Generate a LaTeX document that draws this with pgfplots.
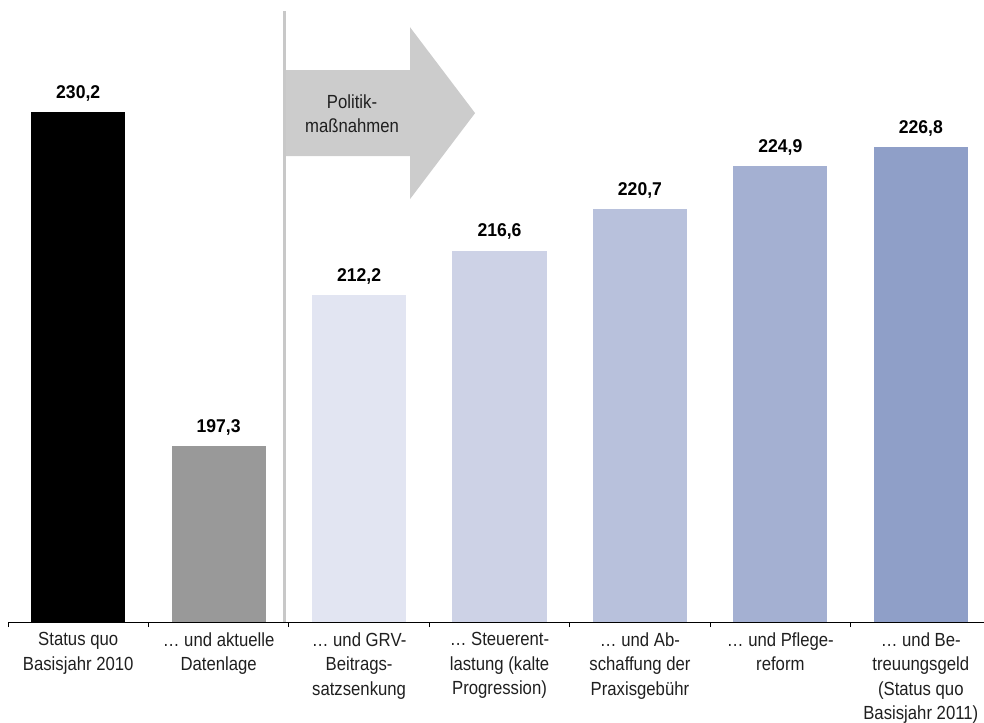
\documentclass[border=0pt]{standalone}
\usepackage{fontspec}
\setmainfont{Liberation Sans}[FakeStretch=0.88]
\newfontfamily\valfont{Liberation Sans}[FakeStretch=0.95]
\usepackage{pgfplots}
\pgfplotsset{compat=1.18}
\definecolor{cA}{HTML}{000000}
\definecolor{cB}{HTML}{999999}
\definecolor{cC}{HTML}{E2E5F2}
\definecolor{cD}{HTML}{CDD2E6}
\definecolor{cE}{HTML}{B8C1DC}
\definecolor{cF}{HTML}{A4B0D2}
\definecolor{cG}{HTML}{8F9FC8}
\definecolor{arrowgray}{HTML}{CCCCCC}
\definecolor{sepgray}{HTML}{C8C8C8}
\newcommand{\lblfont}{\fontsize{19bp}{24.5bp}\selectfont}
\newcommand{\valsize}{\valfont\bfseries\fontsize{18.5bp}{22bp}\selectfont}
\begin{document}
\begin{tikzpicture}
\useasboundingbox (0,0) rectangle (984bp,723bp);
\begin{axis}[
  at={(8bp,101bp)}, anchor=south west,
  scale only axis, width=976bp, height=611bp,
  xmin=-0.5, xmax=6.45, ymin=180, ymax=240.2,
  axis x line*=bottom, axis y line=none,
  axis line style={black, line width=0.9pt},
  ytick=\empty,
  xtick={0,...,6},
  xticklabels={{Status quo\\Basisjahr 2010},{… und aktuelle\\Datenlage},{… und GRV-\\Beitrags-\\satzsenkung},{… Steuerent-\\lastung (kalte\\Progression)},{… und Ab-\\schaffung der\\Praxisgebühr},{… und Pflege-\\reform},{… und Be-\\treuungsgeld\\(Status quo\\Basisjahr 2011)}},
  xticklabel style={align=center, font=\lblfont, text=black!88, yshift=-7bp},
  major tick length=0pt,
  minor xtick={-0.5,0.5,...,5.5},
  minor tick length=5bp,
  tick align=outside,
  minor x tick style={black, line width=0.9pt},
  ybar, bar width=0.67, bar shift=0pt,
  /pgf/number format/assume math mode=true,
  nodes near coords={\pgfmathprintnumber[fixed,precision=1,fixed zerofill,use comma]{\pgfplotspointmeta}},
  nodes near coords style={font=\valsize, text=black, yshift=7.5bp},
  point meta=y,
  clip=false,
]
\addplot[fill=cA, draw=none] coordinates {(0,230.2)};
\addplot[fill=cB, draw=none] coordinates {(1,197.3)};
\addplot[fill=cC, draw=none] coordinates {(2,212.2)};
\addplot[fill=cD, draw=none] coordinates {(3,216.6)};
\addplot[fill=cE, draw=none] coordinates {(4,220.7)};
\addplot[fill=cF, draw=none] coordinates {(5,224.9)};
\addplot[fill=cG, draw=none] coordinates {(6,226.8)};
\fill[sepgray] (axis cs:1.458,180) rectangle (axis cs:1.48,240.2);
\fill[arrowgray] (axis cs:1.48,234.37) -- (axis cs:2.363,234.37) -- (axis cs:2.363,238.6)
  -- (axis cs:2.826,230.14) -- (axis cs:2.363,221.67) -- (axis cs:2.363,225.9)
  -- (axis cs:1.48,225.9) -- cycle;
\node[align=center, font=\lblfont, text=black!88] at (axis cs:1.95,230.1) {Politik-\\maßnahmen};
\end{axis}
\end{tikzpicture}
\end{document}
